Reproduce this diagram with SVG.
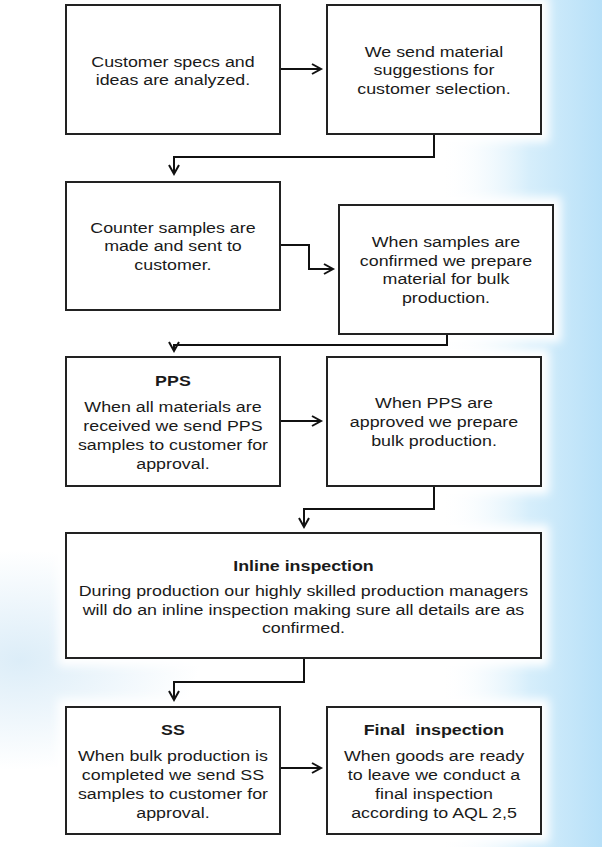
<svg xmlns="http://www.w3.org/2000/svg" width="602" height="847" viewBox="0 0 602 847">
<defs>
<linearGradient id="bgR" x1="0" y1="0" x2="1" y2="0">
<stop offset="0" stop-color="#ffffff" stop-opacity="0"/>
<stop offset="0.55" stop-color="#d6eefb"/>
<stop offset="1" stop-color="#b7e0f8"/>
</linearGradient>
<radialGradient id="bgL" cx="0.5" cy="0.5" r="0.5">
<stop offset="0" stop-color="#dcedf8"/>
<stop offset="1" stop-color="#dcedf8" stop-opacity="0"/>
</radialGradient>
<filter id="glow" x="-20%" y="-20%" width="140%" height="140%">
<feGaussianBlur stdDeviation="5"/>
</filter>
<marker id="arr" markerUnits="userSpaceOnUse" markerWidth="14" markerHeight="14" refX="10" refY="6" orient="auto" viewBox="0 0 14 12">
<path d="M1,1 L10,6 L1,11" fill="none" stroke="#111" stroke-width="2"/>
</marker>
<style>
.box{fill:#fff;stroke:#222;stroke-width:2}
.halo{fill:#fff;filter:url(#glow)}
.t{font-family:"Liberation Sans",Arial,sans-serif;font-size:15.5px;fill:#1a1a1a;text-anchor:middle}
.b{font-weight:bold}
.c{fill:none;stroke:#111;stroke-width:2}
</style>
</defs>
<rect width="602" height="847" fill="#ffffff"/>
<rect x="440" y="0" width="162" height="847" fill="url(#bgR)"/>
<ellipse cx="20" cy="660" rx="180" ry="110" fill="url(#bgL)"/>
<g id="halos">
<rect class="halo" x="58" y="-3" width="230" height="145"/>
<rect class="halo" x="319" y="-3" width="230" height="145"/>
<rect class="halo" x="58" y="174" width="230" height="144"/>
<rect class="halo" x="331" y="197" width="230" height="145"/>
<rect class="halo" x="58" y="349" width="230" height="145"/>
<rect class="halo" x="319" y="349" width="230" height="145"/>
<rect class="halo" x="58" y="525" width="491" height="141"/>
<rect class="halo" x="58" y="699" width="230" height="143"/>
<rect class="halo" x="319" y="699" width="230" height="143"/>
</g>
<g id="connectors">
<path class="c" d="M280,69 H321" marker-end="url(#arr)"/>
<path class="c" d="M434,134 V157 H174 V174" marker-end="url(#arr)"/>
<path class="c" d="M280,245 H309 V269 H333" marker-end="url(#arr)"/>
<path class="c" d="M447,334 V345 H174 V351" marker-end="url(#arr)"/>
<path class="c" d="M280,421 H321" marker-end="url(#arr)"/>
<path class="c" d="M434,486 V509 H304 V527" marker-end="url(#arr)"/>
<path class="c" d="M304,658 V682 H174 V700" marker-end="url(#arr)"/>
<path class="c" d="M280,768 H321" marker-end="url(#arr)"/>
</g>
<g id="n1">
<rect class="box" x="66" y="5" width="214" height="129"/>
<g transform="scale(1.15,1)"><text class="t" x="150.4" y="67">Customer specs and</text><text class="t" x="150.4" y="85">ideas are analyzed.</text></g>
</g>
<g id="n2">
<rect class="box" x="327" y="5" width="214" height="129"/>
<g transform="scale(1.15,1)"><text class="t" x="377.4" y="57">We send material</text><text class="t" x="377.4" y="75.5">suggestions for</text><text class="t" x="377.4" y="94">customer selection.</text></g>
</g>
<g id="n3">
<rect class="box" x="66" y="182" width="214" height="128"/>
<g transform="scale(1.15,1)"><text class="t" x="150.4" y="233">Counter samples are</text><text class="t" x="150.4" y="251.5">made and sent to</text><text class="t" x="150.4" y="270">customer.</text></g>
</g>
<g id="n4">
<rect class="box" x="339" y="205" width="214" height="129"/>
<g transform="scale(1.15,1)"><text class="t" x="387.8" y="247">When samples are</text><text class="t" x="387.8" y="266">confirmed we prepare</text><text class="t" x="387.8" y="284.5">material for bulk</text><text class="t" x="387.8" y="303">production.</text></g>
</g>
<g id="n5">
<rect class="box" x="66" y="357" width="214" height="129"/>
<g transform="scale(1.15,1)"><text class="t b" x="150.4" y="386">PPS</text><text class="t" x="150.4" y="412">When all materials are</text><text class="t" x="150.4" y="431">received we send PPS</text><text class="t" x="150.4" y="450">samples to customer for</text><text class="t" x="150.4" y="469">approval.</text></g>
</g>
<g id="n6">
<rect class="box" x="327" y="357" width="214" height="129"/>
<g transform="scale(1.15,1)"><text class="t" x="377.4" y="408">When PPS are</text><text class="t" x="377.4" y="427">approved we prepare</text><text class="t" x="377.4" y="446">bulk production.</text></g>
</g>
<g id="n7">
<rect class="box" x="66" y="533" width="475" height="125"/>
<g transform="scale(1.15,1)"><text class="t b" x="263.9" y="571">Inline inspection</text><text class="t" x="263.9" y="596">During production our highly skilled production managers</text><text class="t" x="263.9" y="615">will do an inline inspection making sure all details are as</text><text class="t" x="263.9" y="633.5">confirmed.</text></g>
</g>
<g id="n8">
<rect class="box" x="66" y="707" width="214" height="127"/>
<g transform="scale(1.15,1)"><text class="t b" x="150.4" y="735">SS</text><text class="t" x="150.4" y="761">When bulk production is</text><text class="t" x="150.4" y="780">completed we send SS</text><text class="t" x="150.4" y="799">samples to customer for</text><text class="t" x="150.4" y="818">approval.</text></g>
</g>
<g id="n9">
<rect class="box" x="327" y="707" width="214" height="127"/>
<g transform="scale(1.15,1)"><text class="t b" x="377.4" y="735" xml:space="preserve">Final  inspection</text><text class="t" x="377.4" y="761">When goods are ready</text><text class="t" x="377.4" y="780">to leave we conduct a</text><text class="t" x="377.4" y="799">final inspection</text><text class="t" x="377.4" y="818">according to AQL 2,5</text></g>
</g>
</svg>
